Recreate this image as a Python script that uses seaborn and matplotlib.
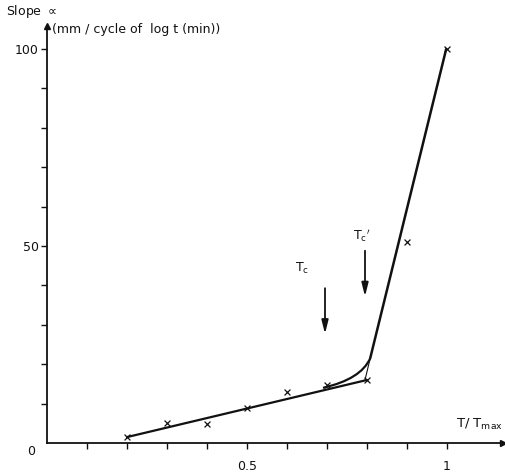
import numpy as np
import pandas as pd
import seaborn as sns
import matplotlib.pyplot as plt
from matplotlib.path import Path
from matplotlib.patches import PathPatch

# measured points
t_ratio = [0.2, 0.3, 0.4, 0.5, 0.6, 0.7, 0.8, 0.9, 1.0]
slope = [1.5, 5.0, 4.8, 9.0, 13.0, 14.7, 16.0, 51.0, 100.0]

# fitted straight lines
low_x = [0.2, 0.8]
low_y = [1.5, 16.0]
steep_thick_x = [0.808, 0.998]
steep_thick_y = [21.5, 100.0]
steep_thin_x = [0.795, 0.808]
steep_thin_y = [16.0, 21.5]

# smoothing curve at the knee (quadratic Bezier: start, control, end)
knee_pts = [(0.69, 14.0), (0.785, 16.2), (0.808, 21.5)]

# arrows
tc_x, tc_top, tc_bot = 0.695, 40.0, 27.0
tcp_x, tcp_top, tcp_bot = 0.795, 49.5, 36.5

sns.set_style("white")
plt.rcParams['font.family'] = ['DejaVu Sans']

fig = plt.figure(figsize=(5.06, 4.73), dpi=100)
W, H = 506, 473
x0_px, x1_px = 47, 503
y0_px, y1_px = 443, 26
ppu_x = 400.0
ppu_y = 3.94
ax = fig.add_axes([x0_px / W, (H - y0_px) / H, (x1_px - x0_px) / W, (y0_px - y1_px) / H])
ax.set_xlim(0, (x1_px - x0_px) / ppu_x)
ax.set_ylim(0, (y0_px - y1_px) / ppu_y)

col = "#111111"
df_low = pd.DataFrame({"x": low_x, "y": low_y})
sns.lineplot(data=df_low, x="x", y="y", ax=ax, color=col, lw=1.6)
df_st = pd.DataFrame({"x": steep_thick_x, "y": steep_thick_y})
sns.lineplot(data=df_st, x="x", y="y", ax=ax, color=col, lw=1.8)
df_thin = pd.DataFrame({"x": steep_thin_x, "y": steep_thin_y})
sns.lineplot(data=df_thin, x="x", y="y", ax=ax, color=col, lw=0.8)

path = Path(knee_pts, [Path.MOVETO, Path.CURVE3, Path.CURVE3])
ax.add_patch(PathPatch(path, fill=False, edgecolor=col, lw=1.6))

df_pts = pd.DataFrame({"x": t_ratio, "y": slope})
sns.scatterplot(data=df_pts, x="x", y="y", ax=ax, marker="x", color=col, s=18, linewidth=0.9, zorder=5)

for x, top, bot in [(tc_x, tc_top, tc_bot), (tcp_x, tcp_top, tcp_bot)]:
    ax.annotate("", xy=(x, bot), xytext=(x, top),
                arrowprops=dict(arrowstyle="-|>,head_length=0.8,head_width=0.2", color=col, lw=1.3))

ax.text(0.62, 43.5, r"T$_\mathregular{c}$", fontsize=9, color=col)
ax.text(0.765, 51.5, r"T$_\mathregular{c}$$'$", fontsize=9, color=col)

# axes styling
for s in ["top", "right"]:
    ax.spines[s].set_visible(False)
for s in ["left", "bottom"]:
    ax.spines[s].set_color(col)
    ax.spines[s].set_linewidth(1.3)

xt = np.arange(0.1, 1.01, 0.1)
ax.set_xticks(xt)
ax.set_xticklabels(["0.5" if abs(v - 0.5) < 1e-6 else ("1" if abs(v - 1.0) < 1e-6 else "") for v in xt])
ax.set_yticks(np.arange(10, 101, 10))
ax.set_yticklabels(["100" if v == 100 else ("50" if v == 50 else "") for v in range(10, 101, 10)])
ax.tick_params(axis="both", bottom=True, left=True, direction="out", length=4, width=1.0,
               color=col, labelsize=9, labelcolor=col, pad=8)
ax.tick_params(axis="y", pad=2)
ax.set_xlabel("")
ax.set_ylabel("")

# axis arrows
ax.plot(1, 0, ">", transform=ax.transAxes, color=col, ms=5, clip_on=False)
ax.plot(0, 1, "^", transform=ax.transAxes, color=col, ms=5, clip_on=False)

fig.text(31 / W, 1 - 451 / H, "0", fontsize=9, color=col, ha="center", va="center")
fig.text(456 / W, 1 - 432 / H, r"T/ T$_\mathregular{max}$", fontsize=9.5, color=col, ha="left", va="bottom")
fig.text(6 / W, 1 - 12 / H, r"Slope $\propto$", fontsize=9, color=col, ha="left", va="center")
fig.text(52 / W, 1 - 30 / H, "(mm / cycle of  log t (min))", fontsize=9, color=col, ha="left", va="center")

fig.savefig("out.png", dpi=100)
